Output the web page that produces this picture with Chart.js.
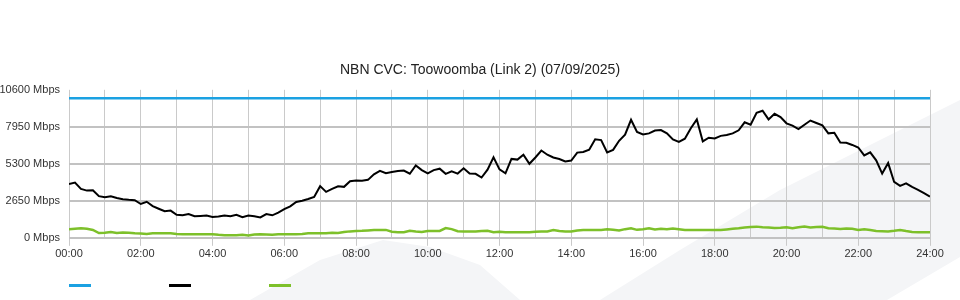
<!DOCTYPE html>
<html>
<head>
<meta charset="utf-8">
<script src="https://cdn.jsdelivr.net/npm/chart.js@4/dist/chart.umd.min.js"></script>
<style>
  html, body { margin: 0; padding: 0; background: #fff; }
  #wrap { position: relative; width: 960px; height: 300px; }
  .key { position: absolute; top: 284px; width: 22px; height: 3px; }
</style>
</head>
<body>
<div id="wrap">
  <canvas id="cvcChart" width="960" height="300"></canvas>
  <div class="key" style="left:69px;background:#1ba1e2"></div>
  <div class="key" style="left:169px;background:#000"></div>
  <div class="key" style="left:269px;background:#7dc02a"></div>
</div>
<script>
// ----------------------------
// Data (10 minute samples, Mbps)
// ----------------------------
const chartTitle = "NBN CVC: Toowoomba (Link 2) (07/09/2025)";
const yTicks = [0, 2650, 5300, 7950, 10600];
const xTickHours = ["00:00", "02:00", "04:00", "06:00", "08:00", "10:00", "12:00",
                    "14:00", "16:00", "18:00", "20:00", "22:00", "24:00"];
const capacityMbps = 10000;

const trafficIn = [
  3850, 3950, 3500, 3380, 3410, 2980, 2900, 2980, 2850, 2760,
  2720, 2690, 2420, 2580, 2270, 2080, 1900, 1950, 1650, 1610,
  1700, 1540, 1570, 1600, 1490, 1520, 1600, 1540, 1650, 1470,
  1590, 1550, 1460, 1700, 1610, 1800, 2050, 2250, 2570, 2650,
  2780, 2930, 3700, 3290, 3500, 3690, 3650, 4050, 4110, 4080,
  4150, 4550, 4800, 4620, 4710, 4780, 4820, 4590, 5180, 4850,
  4620, 4850, 4950, 4580, 4760, 4600, 4980, 4600, 4580, 4320,
  4880, 5770, 4900, 4620, 5650, 5600, 5950, 5300, 5750, 6250,
  5950, 5750, 5640, 5470, 5530, 6100, 6150, 6310, 7060, 7000,
  6110, 6300, 6950, 7390, 8450, 7580, 7400, 7480, 7680, 7720,
  7480, 7050, 6870, 7100, 7850, 8480, 6900, 7170, 7120, 7300,
  7360, 7480, 7700, 8270, 8100, 8950, 9100, 8480, 8880, 8650,
  8200, 8030, 7780, 8100, 8400, 8220, 8050, 7480, 7520, 6830,
  6800, 6650, 6470, 5900, 6120, 5550, 4600, 5350, 4000, 3720,
  3900, 3640, 3440, 3200, 2950
];

const trafficOut = [
  620, 650, 680, 640, 560, 340, 360, 420, 350, 380,
  370, 320, 300, 280, 320, 320, 330, 320, 270, 260,
  260, 260, 260, 260, 260, 220, 190, 190, 190, 210,
  170, 230, 250, 240, 210, 250, 260, 260, 260, 280,
  330, 330, 330, 330, 370, 340, 420, 460, 480, 500,
  530, 565, 565, 565, 430, 400, 400, 510, 450, 420,
  490, 495, 495, 700, 620, 470, 450, 450, 450, 480,
  510, 400, 440, 400, 400, 400, 400, 400, 430, 450,
  450, 560, 480, 460, 450, 520, 565, 565, 565, 565,
  610, 580, 530, 620, 680, 570, 620, 680, 600, 650,
  620, 670, 620, 565, 565, 565, 565, 565, 565, 565,
  600, 640, 680, 740, 770, 800, 760, 730, 700, 720,
  760, 690, 760, 800, 730, 770, 790, 680, 660, 636,
  660, 640, 565, 620, 560, 495, 470, 450, 500, 560,
  480, 410, 400, 400, 400
];

// sample times in minutes after midnight
const sampleMinutes = trafficIn.map((_, i) => i * 10);
const toPoints = arr => arr.map((v, i) => ({ x: sampleMinutes[i], y: v }));

// ----------------------------
// Faint background watermark
// ----------------------------
const watermark = {
  id: "watermark",
  beforeDraw(chart) {
    const c = chart.ctx;
    c.save();
    c.fillStyle = "#f4f5f7";
    c.beginPath();
    c.moveTo(600, 300); c.lineTo(680, 250); c.lineTo(780, 190);
    c.lineTo(960, 100); c.lineTo(960, 257); c.lineTo(887, 300);
    c.closePath();
    c.fill();
    c.beginPath();
    c.moveTo(250, 300); c.lineTo(320, 260); c.lineTo(383, 240);
    c.lineTo(430, 247); c.lineTo(480, 265); c.lineTo(520, 300);
    c.closePath();
    c.fill();
    c.restore();
  }
};

Chart.defaults.font.family = '"Liberation Sans", Arial, sans-serif';
Chart.defaults.font.size = 11;
Chart.defaults.color = "#333";

new Chart(document.getElementById("cvcChart").getContext("2d"), {
  type: "line",
  data: {
    datasets: [
      { label: "Capacity", data: [{ x: 0, y: capacityMbps }, { x: 1440, y: capacityMbps }],
        borderColor: "#1ba1e2", borderWidth: 2.5, pointRadius: 0 },
      { label: "In", data: toPoints(trafficIn),
        borderColor: "#000", borderWidth: 2, pointRadius: 0 },
      { label: "Out", data: toPoints(trafficOut),
        borderColor: "#7dc02a", borderWidth: 2.5, pointRadius: 0 }
    ]
  },
  options: {
    responsive: false,
    animation: false,
    layout: { padding: { left: 0, right: 0, top: 0, bottom: 37 } },
    plugins: {
      legend: { display: false },
      tooltip: { enabled: false },
      title: {
        display: true,
        text: chartTitle,
        color: "#222",
        font: { size: 14, weight: "normal" },
        padding: { top: 62, bottom: 11 }
      }
    },
    scales: {
      x: {
        type: "linear",
        min: 0,
        max: 1440,
        border: { display: false },
        grid: {
          color: "#cacaca",
          lineWidth: 1,
          tickLength: 8,
          tickColor: ctx => ctx.tick && ctx.tick.value % 120 === 0 ? "#cacaca" : "rgba(0,0,0,0)"
        },
        ticks: {
          stepSize: 60,
          autoSkip: false,
          maxRotation: 0,
          padding: 2,
          callback: v => v % 120 === 0 ? xTickHours[v / 120] : ""
        }
      },
      y: {
        min: 0,
        max: 10600,
        border: { display: false },
        afterBuildTicks: s => { s.ticks = yTicks.map(v => ({ value: v })); },
        afterFit: s => { s.width = 69; },
        grid: {
          drawTicks: false,
          lineWidth: 2,
          color: ctx => ctx.tick && ctx.tick.value === 10600 ? "rgba(0,0,0,0)" : "#c2c2c2"
        },
        ticks: {
          padding: 9,
          callback: v => v + " Mbps"
        }
      },
      // empty right-hand gutter so the plot ends at 24:00 with the title centred
      gutter: {
        position: "right",
        min: 0,
        max: 10600,
        border: { display: false },
        grid: { display: false },
        ticks: { display: false },
        afterFit: s => { s.width = 30; }
      }
    }
  },
  plugins: [watermark]
});
</script>
</body>
</html>
